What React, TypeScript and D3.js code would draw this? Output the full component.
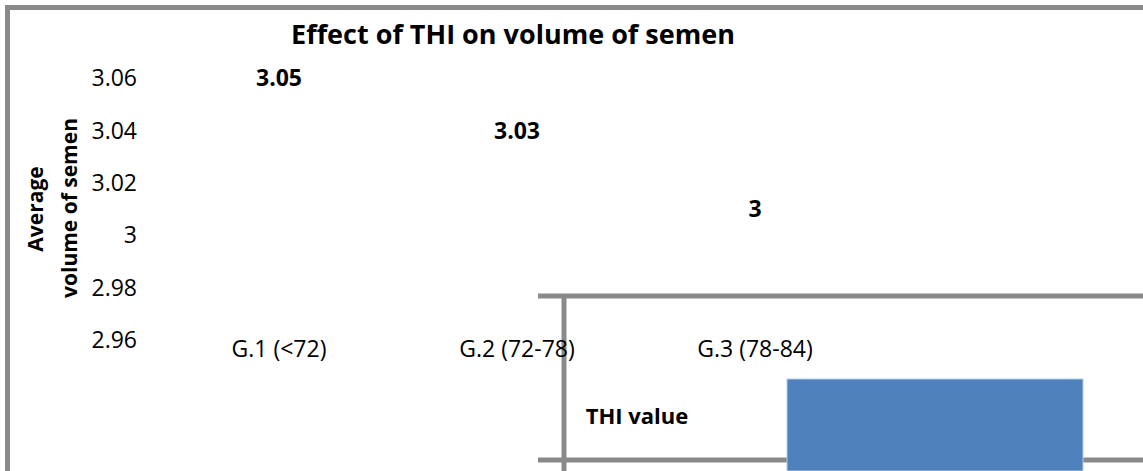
import React, { useRef, useEffect } from "react";
import * as d3 from "d3";

// chart values
const categories = ["G.1 (<72)", "G.2 (72-78)", "G.3 (78-84)"];
const volumes = [3.05, 3.03, 3];
const yTicks = [3.06, 3.04, 3.02, 3, 2.98, 2.96];
const yTickLabels = ["3.06", "3.04", "3.02", "3", "2.98", "2.96"];

const title = "Effect of THI on volume of semen";
const xTitle = "THI value";
const yTitleLines = ["Average", "volume of semen"];

const W = 1143;
const H = 471;
const FONT = "'Open Sans', 'DejaVu Sans', sans-serif";
const frameGray = "#898989";

function App() {
  const svgRef = useRef<SVGSVGElement | null>(null);

  useEffect(() => {
    const svg = d3.select(svgRef.current);
    svg.selectAll("*").remove();

    const x = d3.scaleBand<string>().domain(categories).range([160, 874]);
    const y = d3.scaleLinear().domain([2.96, 3.06]).range([340, 78]);

    // outer chart frame (runs off the right and bottom edges)
    svg
      .append("rect")
      .attr("x", 7.5)
      .attr("y", 7.5)
      .attr("width", W + 20)
      .attr("height", H + 20)
      .attr("fill", "none")
      .attr("stroke", frameGray)
      .attr("stroke-width", 5);

    // inner box lines
    const g = svg.append("g").attr("stroke", frameGray).attr("stroke-width", 5);
    g.append("line").attr("x1", 538).attr("x2", W).attr("y1", 296).attr("y2", 296);
    g.append("line").attr("x1", 538).attr("x2", W).attr("y1", 460).attr("y2", 460);
    g.append("line").attr("x1", 564).attr("x2", 564).attr("y1", 294).attr("y2", H);

    // title
    svg
      .append("text")
      .attr("x", 513)
      .attr("y", 44)
      .attr("text-anchor", "middle")
      .attr("font-family", FONT)
      .attr("font-weight", "bold")
      .attr("font-size", 27)
      .text(title);

    // y tick labels
    svg
      .append("g")
      .selectAll("text")
      .data(yTicks)
      .enter()
      .append("text")
      .attr("x", 137)
      .attr("y", (d) => y(d))
      .attr("dy", "0.36em")
      .attr("text-anchor", "end")
      .attr("font-family", FONT)
      .attr("font-size", 23)
      .text((d, i) => yTickLabels[i]);

    // y axis title
    const yt = svg
      .append("text")
      .attr("transform", "rotate(-90)")
      .attr("text-anchor", "middle")
      .attr("font-family", FONT)
      .attr("font-weight", "bold")
      .attr("font-size", 21);
    yt.append("tspan").attr("x", -209).attr("y", 43).text(yTitleLines[0]);
    yt.append("tspan").attr("x", -208).attr("y", 77).text(yTitleLines[1]);

    // data labels
    svg
      .append("g")
      .selectAll("text")
      .data(volumes)
      .enter()
      .append("text")
      .attr("x", (d, i) => x(categories[i])! + x.bandwidth() / 2)
      .attr("y", (d) => y(d) - 26)
      .attr("dy", "0.36em")
      .attr("text-anchor", "middle")
      .attr("font-family", FONT)
      .attr("font-weight", "bold")
      .attr("font-size", 23)
      .text((d) => String(d));

    // category labels
    svg
      .append("g")
      .selectAll("text")
      .data(categories)
      .enter()
      .append("text")
      .attr("x", (d) => x(d)! + x.bandwidth() / 2)
      .attr("y", 357)
      .attr("text-anchor", "middle")
      .attr("font-family", FONT)
      .attr("font-size", 23)
      .text((d) => d);

    // x axis title
    svg
      .append("text")
      .attr("x", 637)
      .attr("y", 424)
      .attr("text-anchor", "middle")
      .attr("font-family", FONT)
      .attr("font-weight", "bold")
      .attr("font-size", 22)
      .text(xTitle);

    // stray blue block
    svg
      .append("rect")
      .attr("x", 787)
      .attr("y", 379)
      .attr("width", 296)
      .attr("height", H - 379)
      .attr("fill", "#4f81bd")
      .attr("stroke", "#b9cde5")
      .attr("stroke-width", 1);
  }, []);

  return (
    <svg
      ref={svgRef}
      width={W}
      height={H}
      style={{ position: "absolute", left: 0, top: 0, background: "#fff" }}
    />
  );
}

export default App;
